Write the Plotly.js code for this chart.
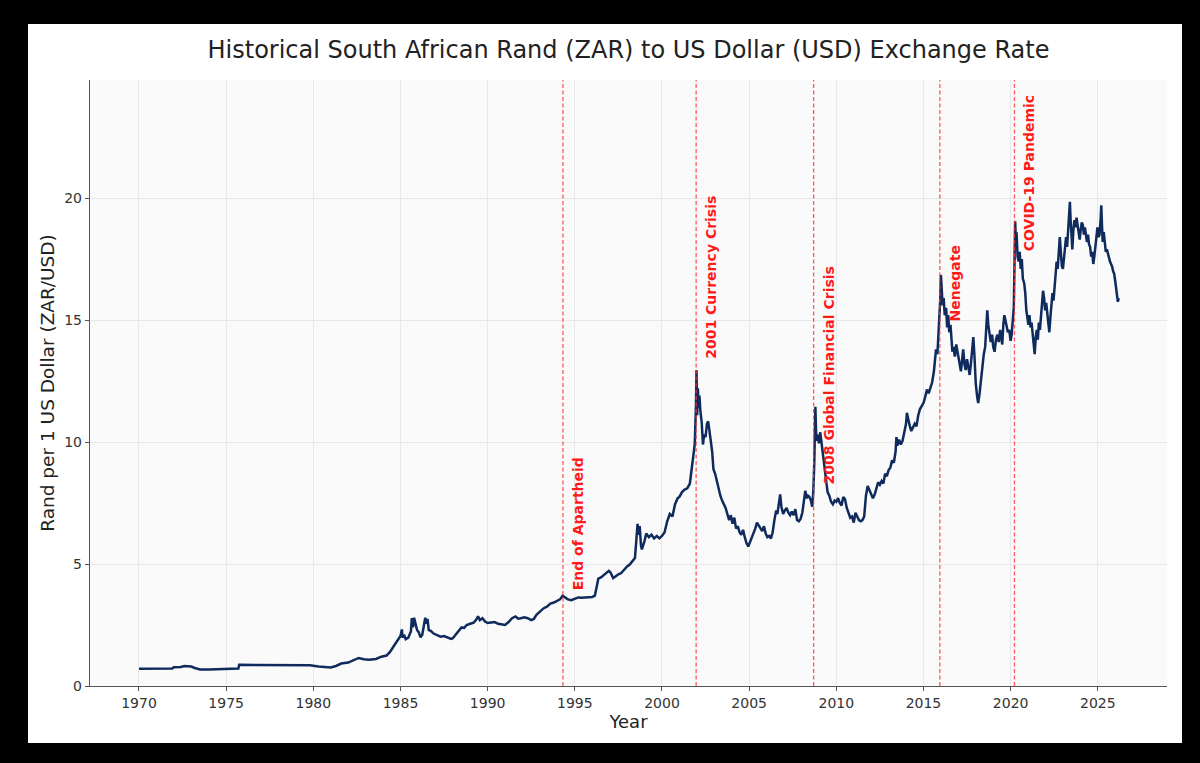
<!DOCTYPE html>
<html>
<head>
<meta charset="utf-8">
<script src="https://cdn.plot.ly/plotly-3.0.1.min.js"></script>
<style>
  html, body { margin: 0; padding: 0; background: #000; width: 1200px; height: 763px; overflow: hidden; }
  #chart { position: absolute; left: 28px; top: 24px; width: 1154px; height: 719px; background: #fff; }
</style>
</head>
<body>
<div id="chart"></div>
<script>
// ---- Data (decimal year, ZAR per 1 USD) ----
const years1970s = [1970.0,1971.0,1971.9,1972.0,1972.4,1972.6,1973.0,1973.2,1973.5,1974.0,1974.5,1974.8,1975.3,1975.7,1975.75,1976.5,1977.5,1978.5,1979.0,1979.8];
const rates1970s = [0.71,0.72,0.72,0.77,0.78,0.82,0.80,0.74,0.68,0.68,0.69,0.71,0.70,0.72,0.87,0.87,0.87,0.87,0.86,0.85];

const years1980s = [1980.3,1980.6,1981.0,1981.3,1981.6,1982.0,1982.3,1982.6,1982.9,1983.2,1983.6,1983.9,1984.2,1984.4,1984.6,1984.8,1984.9,1985.0,1985.08,1985.12,1985.2,1985.3,1985.45,1985.6,1985.65,1985.72,1985.78,1985.85,1985.95,1986.05,1986.15,1986.25,1986.35,1986.42,1986.5,1986.55,1986.62,1986.75,1986.9,1987.1,1987.3,1987.5,1987.7,1987.9,1988.0,1988.15,1988.3,1988.5,1988.65,1988.8,1989.0,1989.2,1989.35,1989.45,1989.55,1989.7,1989.85];
const rates1980s = [0.80,0.77,0.76,0.82,0.92,0.96,1.06,1.15,1.10,1.08,1.11,1.20,1.25,1.40,1.62,1.85,1.95,2.05,2.32,1.98,2.10,1.92,1.98,2.25,2.78,2.40,2.80,2.55,2.30,2.20,2.00,2.10,2.45,2.80,2.55,2.75,2.30,2.25,2.15,2.08,2.02,2.05,1.98,1.93,1.96,2.10,2.25,2.40,2.38,2.50,2.55,2.60,2.72,2.86,2.70,2.78,2.64];

const years1990s = [1990.0,1990.2,1990.4,1990.6,1990.8,1991.0,1991.2,1991.4,1991.6,1991.75,1991.9,1992.1,1992.3,1992.5,1992.65,1992.8,1993.0,1993.2,1993.4,1993.6,1993.8,1994.0,1994.15,1994.3,1994.45,1994.6,1994.8,1995.0,1995.2,1995.4,1995.6,1995.8,1996.0,1996.15,1996.25,1996.35,1996.5,1996.65,1996.8,1996.95,1997.05,1997.2,1997.35,1997.5,1997.65,1997.8,1998.0,1998.15,1998.3,1998.45,1998.52,1998.6,1998.65,1998.72,1998.8,1998.85,1999.0,1999.1,1999.25,1999.4,1999.55,1999.7,1999.85];
const rates1990s = [2.58,2.60,2.62,2.55,2.52,2.50,2.62,2.78,2.85,2.76,2.78,2.82,2.78,2.70,2.75,2.92,3.05,3.18,3.25,3.38,3.42,3.48,3.55,3.70,3.62,3.55,3.52,3.58,3.63,3.62,3.64,3.65,3.65,3.70,4.05,4.40,4.45,4.55,4.62,4.72,4.65,4.42,4.50,4.58,4.62,4.75,4.90,4.98,5.10,5.25,5.90,6.65,6.20,6.55,5.75,5.60,5.95,6.25,6.10,6.20,6.05,6.15,6.05];

const years2000s = [2000.0,2000.15,2000.3,2000.45,2000.6,2000.75,2000.9,2001.0,2001.15,2001.3,2001.45,2001.6,2001.7,2001.8,2001.88,2001.95,2001.98,2002.02,2002.06,2002.1,2002.15,2002.2,2002.28,2002.35,2002.42,2002.5,2002.58,2002.65,2002.72,2002.8,2002.88,2002.95,2003.05,2003.15,2003.25,2003.35,2003.45,2003.55,2003.65,2003.75,2003.85,2003.95,2004.05,2004.15,2004.25,2004.35,2004.45,2004.55,2004.65,2004.75,2004.85,2004.95,2005.05,2005.15,2005.25,2005.35,2005.45,2005.55,2005.65,2005.75,2005.85,2005.95,2006.05,2006.15,2006.25,2006.35,2006.45,2006.55,2006.62,2006.7,2006.78,2006.85,2006.95,2007.05,2007.15,2007.25,2007.35,2007.45,2007.55,2007.65,2007.75,2007.85,2007.95,2008.05,2008.15,2008.22,2008.3,2008.38,2008.46,2008.54,2008.62,2008.68,2008.74,2008.8,2008.84,2008.88,2008.94,2009.0,2009.08,2009.14,2009.2,2009.3,2009.4,2009.5,2009.6,2009.7,2009.8,2009.9];
const rates2000s = [6.15,6.30,6.75,7.05,6.95,7.45,7.70,7.75,7.95,8.05,8.10,8.30,8.90,9.35,9.90,11.50,12.95,11.10,12.20,11.40,11.90,11.30,10.80,9.90,10.30,10.20,10.75,10.85,10.55,10.05,9.60,8.90,8.70,8.40,8.00,7.80,7.60,7.45,7.30,7.05,6.80,7.00,6.65,6.90,6.45,6.55,6.30,6.20,6.40,6.10,5.85,5.72,5.90,6.05,6.20,6.45,6.70,6.60,6.45,6.35,6.55,6.25,6.10,6.15,6.05,6.30,6.80,7.20,7.05,7.50,7.85,7.35,7.05,7.20,7.30,7.10,7.00,7.15,7.00,7.25,6.80,6.75,6.85,7.10,7.60,8.00,7.70,7.80,7.75,7.60,7.35,7.95,9.20,11.45,10.40,10.05,10.30,9.95,10.40,10.05,9.50,8.90,8.30,7.95,7.80,7.55,7.45,7.60];

const years2010s = [2010.0,2010.1,2010.2,2010.3,2010.4,2010.5,2010.6,2010.7,2010.8,2010.9,2011.0,2011.1,2011.2,2011.3,2011.4,2011.5,2011.6,2011.7,2011.8,2011.9,2012.0,2012.1,2012.2,2012.3,2012.4,2012.5,2012.6,2012.7,2012.8,2012.9,2013.0,2013.1,2013.2,2013.3,2013.4,2013.45,2013.5,2013.6,2013.7,2013.8,2013.9,2014.0,2014.05,2014.12,2014.2,2014.3,2014.4,2014.5,2014.6,2014.7,2014.8,2014.9,2015.0,2015.1,2015.2,2015.3,2015.4,2015.5,2015.6,2015.65,2015.72,2015.8,2015.86,2015.92,2015.96,2016.0,2016.04,2016.1,2016.16,2016.22,2016.3,2016.36,2016.42,2016.48,2016.55,2016.6,2016.66,2016.72,2016.8,2016.88,2016.95,2017.0,2017.08,2017.15,2017.2,2017.28,2017.35,2017.42,2017.5,2017.58,2017.65,2017.72,2017.8,2017.86,2017.92,2018.0,2018.08,2018.14,2018.22,2018.3,2018.38,2018.46,2018.54,2018.6,2018.66,2018.72,2018.78,2018.86,2018.94,2019.0,2019.08,2019.16,2019.24,2019.32,2019.4,2019.46,2019.52,2019.58,2019.64,2019.7,2019.76,2019.84,2019.92];
const rates2010s = [7.55,7.70,7.50,7.40,7.75,7.65,7.30,7.05,6.90,6.95,6.70,7.10,6.95,6.80,6.75,6.80,6.95,7.80,8.20,8.05,7.90,7.70,7.85,8.10,8.35,8.25,8.40,8.30,8.70,8.60,8.85,8.95,9.25,9.15,9.60,10.20,9.85,10.10,9.90,10.05,10.40,10.75,11.20,10.90,10.70,10.45,10.60,10.75,10.65,11.10,11.35,11.50,11.60,11.85,12.15,12.00,12.25,12.45,12.90,13.30,13.80,13.60,14.40,15.20,15.80,16.85,16.20,15.60,15.90,15.20,15.50,14.70,15.20,14.50,14.80,14.20,13.70,13.90,13.50,14.00,13.70,13.60,13.20,12.90,13.25,13.80,13.20,12.95,13.40,13.10,12.75,13.20,14.00,14.30,13.60,12.40,11.85,11.60,12.00,12.60,13.30,13.60,13.90,14.50,15.40,14.80,14.40,14.10,14.40,13.90,13.70,14.20,14.40,14.10,14.60,14.30,14.00,14.80,15.20,15.00,14.70,14.50,14.60];

const years2020s = [2020.0,2020.06,2020.12,2020.18,2020.22,2020.26,2020.3,2020.34,2020.4,2020.46,2020.52,2020.58,2020.64,2020.7,2020.78,2020.84,2020.9,2020.96,2021.02,2021.08,2021.14,2021.2,2021.26,2021.32,2021.38,2021.44,2021.5,2021.56,2021.62,2021.68,2021.74,2021.8,2021.86,2021.92,2021.98,2022.04,2022.1,2022.16,2022.22,2022.28,2022.34,2022.4,2022.46,2022.52,2022.58,2022.64,2022.7,2022.76,2022.82,2022.88,2022.94,2023.0,2023.06,2023.12,2023.18,2023.24,2023.3,2023.36,2023.4,2023.44,2023.5,2023.54,2023.6,2023.66,2023.72,2023.78,2023.84,2023.9,2023.96,2024.02,2024.08,2024.14,2024.2,2024.26,2024.32,2024.38,2024.44,2024.5,2024.56,2024.62,2024.68,2024.74,2024.8,2024.86,2024.92,2024.98,2025.04,2025.1,2025.16,2025.2,2025.24,2025.28,2025.34,2025.4,2025.46,2025.52,2025.58,2025.64,2025.7,2025.76,2025.82,2025.88,2025.94,2026.0,2026.06,2026.1,2026.15,2026.2];
const rates2020s = [14.15,14.40,15.00,15.50,17.20,19.05,18.30,18.60,17.60,17.40,17.80,17.10,17.50,16.70,16.50,16.10,15.40,15.10,14.80,15.20,14.70,14.90,14.40,14.20,13.60,14.30,14.60,14.20,14.90,14.60,15.10,15.40,16.20,15.90,15.40,15.70,15.20,14.80,14.50,15.10,15.60,16.10,15.80,16.40,17.00,17.40,17.10,18.00,18.40,17.80,17.20,17.10,17.60,18.20,18.40,18.00,18.60,19.20,19.85,19.10,18.50,17.90,18.70,19.10,18.80,19.20,18.90,18.50,18.30,18.70,19.00,18.90,18.50,18.80,18.40,18.20,18.50,18.10,18.00,17.60,17.80,17.30,17.60,18.00,18.20,18.80,18.40,18.50,19.10,19.70,18.90,18.20,18.60,18.00,17.80,17.90,17.70,17.50,17.40,17.30,17.20,17.00,16.90,16.60,16.30,16.00,15.75,15.90];

// ---- Events ----
const eventYears = [1994.32, 2001.96, 2008.70, 2015.94, 2020.22];
const eventLabels = ["End of Apartheid", "2001 Currency Crisis", "2008 Global Financial Crisis", "Nenegate", "COVID-19 Pandemic"];

// ---- Axis ticks ----
const xTickYears = [1970, 1975, 1980, 1985, 1990, 1995, 2000, 2005, 2010, 2015, 2020, 2025];
const yTickValues = [0, 5, 10, 15, 20];

const allYears = [].concat(years1970s, years1980s, years1990s, years2000s, years2010s, years2020s);
const allRates = [].concat(rates1970s, rates1980s, rates1990s, rates2000s, rates2010s, rates2020s);

const labelBottoms = [3.85, 13.35, 8.2, 14.85, 17.75];
const labelOffset = 0.85;

const trace = {
  x: allYears, y: allRates, type: 'scatter', mode: 'lines',
  line: { color: '#0f2a5c', width: 2.5 },
  hoverinfo: 'skip'
};

const shapes = eventYears.map(ey => ({
  type: 'line', xref: 'x', yref: 'paper', x0: ey, x1: ey, y0: 0, y1: 1,
  line: { color: 'rgba(255,50,50,0.8)', width: 1.3, dash: '4px,2.5px' }
}));

const annotations = eventYears.map((ey, i) => ({
  x: ey + labelOffset, y: labelBottoms[i], xref: 'x', yref: 'y',
  text: '<b>' + eventLabels[i] + '</b>', showarrow: false, textangle: -90,
  xanchor: 'center', yanchor: 'bottom',
  font: { family: 'DejaVu Sans', size: 14, color: '#ff1a1a' }
}));

const layout = {
  width: 1154, height: 719,
  margin: { l: 62, r: 15, t: 56, b: 57 },
  paper_bgcolor: '#ffffff', plot_bgcolor: '#fafafa',
  showlegend: false,
  font: { family: 'DejaVu Sans', color: '#333333' },
  title: { text: 'Historical South African Rand (ZAR) to US Dollar (USD) Exchange Rate',
           x: 0.5, xref: 'paper', y: 0.965, yref: 'container', yanchor: 'middle',
           font: { family: 'DejaVu Sans', size: 24, color: '#222222' } },
  xaxis: {
    range: [1967.19, 2028.97], tickvals: xTickYears, ticktext: xTickYears.map(String),
    showgrid: true, gridcolor: '#e8e8e8', gridwidth: 1, zeroline: false,
    showline: true, linecolor: '#555555', linewidth: 1.2,
    ticks: 'outside', ticklen: 4, tickcolor: '#555555',
    tickfont: { family: 'DejaVu Sans', size: 14, color: '#333333' },
    title: { text: 'Year', font: { family: 'DejaVu Sans', size: 18, color: '#222222' }, standoff: 3 }
  },
  yaxis: {
    range: [0, 24.84], tickvals: yTickValues, ticktext: yTickValues.map(String),
    showgrid: true, gridcolor: '#e8e8e8', gridwidth: 1, zeroline: false,
    showline: true, linecolor: '#555555', linewidth: 1.2,
    ticks: 'outside', ticklen: 4, tickcolor: '#555555',
    tickfont: { family: 'DejaVu Sans', size: 14, color: '#333333' },
    title: { text: 'Rand per 1 US Dollar (ZAR/USD)', font: { family: 'DejaVu Sans', size: 18.5, color: '#222222' }, standoff: 4 }
  },
  shapes: shapes,
  annotations: annotations
};

Plotly.newPlot('chart', [trace], layout, { displayModeBar: false, staticPlot: true });
</script>
</body>
</html>
